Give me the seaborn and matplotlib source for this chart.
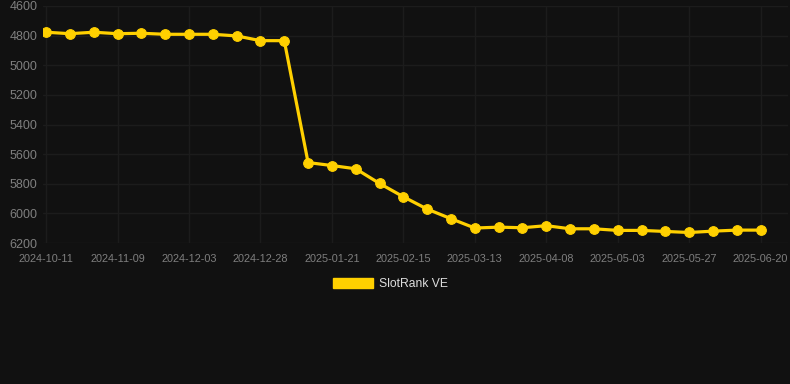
import matplotlib
matplotlib.use("Agg")
import matplotlib.pyplot as plt
import seaborn as sns
import pandas as pd
import numpy as np
from matplotlib.patches import Patch

# Data (categorical x axis, 31 points; labels shown on every 3rd point)
tick_labels = ["2024-10-11", "2024-11-09", "2024-12-03", "2024-12-28", "2025-01-21",
               "2025-02-15", "2025-03-13", "2025-04-08", "2025-05-03", "2025-05-27",
               "2025-06-20"]
rank_values = [4777, 4787, 4777, 4787, 4784, 4791, 4791, 4791, 4802, 4834, 4834,
               5657, 5677, 5699, 5798, 5888, 5971, 6036, 6099, 6093, 6097, 6083,
               6104, 6104, 6115, 6115, 6122, 6129, 6120, 6113, 6113]
series_name = "SlotRank VE"

df = pd.DataFrame({"idx": np.arange(len(rank_values)), "rank": rank_values,
                   "series": series_name})

bg = "#111111"
gold = "#FFD000"
grid_c = "#1c1c1c"
tick_c = "#7f7f7f"

sns.set_theme(style="dark")
plt.rcParams["font.family"] = ["Liberation Sans", "DejaVu Sans"]

fig = plt.figure(figsize=(7.9, 3.84), dpi=100, facecolor=bg)
ax = fig.add_axes([43/790, 1 - 243/384, (788 - 43)/790, (243 - 6)/384])
ax.set_facecolor(bg)

sns.lineplot(data=df, x="idx", y="rank", ax=ax, color=gold, linewidth=2.3,
             marker="o", markersize=7, markeredgecolor=gold, legend=False)

ax.set_ylim(6200, 4600)
ax.set_yticks(np.arange(4600, 6201, 200))
ax.set_xlim(-0.13, 31.15)
ax.set_xticks(np.arange(0, len(rank_values), 3))
ax.set_xticklabels(tick_labels)

ax.grid(True, color=grid_c, linewidth=1.0)
for s in ax.spines.values():
    s.set_visible(False)
ax.tick_params(axis="y", colors=tick_c, labelsize=9, length=0, pad=4)
ax.tick_params(axis="x", colors=tick_c, labelsize=7.8, length=0, pad=8)
for lab in ax.get_yticklabels():
    lab.set_color(tick_c)
for lab in ax.get_xticklabels():
    lab.set_color(tick_c)
ax.set_xlabel("")
ax.set_ylabel("")

# Legend below the chart
handles = [Patch(facecolor=gold, edgecolor=gold, label=series_name)]
leg = fig.legend(handles=handles, loc="center", bbox_to_anchor=(0.4945, 1 - 284/384),
                 frameon=False, fontsize=8.7, handlelength=3.3, handleheight=0.9,
                 handletextpad=0.5)
for t in leg.get_texts():
    t.set_color("#dddddd")

fig.savefig("out.png", dpi=100, facecolor=bg)
